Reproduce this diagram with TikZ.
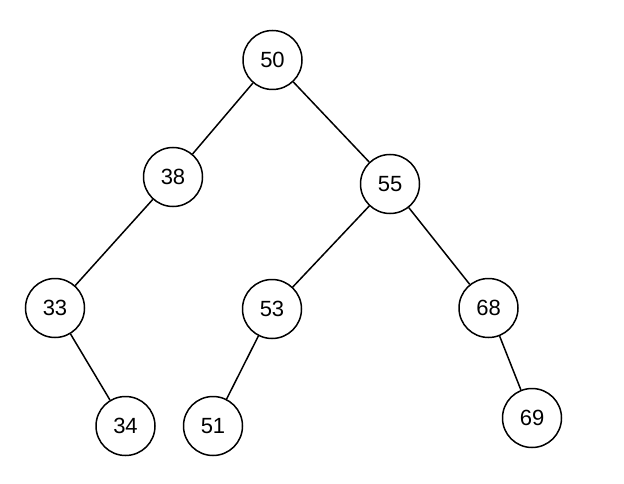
\documentclass[tikz,border=0pt]{standalone}
\usepackage{fontspec}
\setmainfont{Liberation Sans}
\begin{document}
\begin{tikzpicture}[x=1pt,y=-1pt,
  treenode/.style={circle,draw=black,line width=1.5pt,minimum size=59pt,inner sep=0pt,font=\fontsize{22}{26}\selectfont},
  edge/.style={draw=black,line width=1.5pt}]
\useasboundingbox (0,0) rectangle (624,484);
\node[treenode] (n50) at (272.5,60) {50};
\node[treenode] (n38) at (173,177) {38};
\node[treenode] (n55) at (390,184) {55};
\node[treenode] (n33) at (55,308) {33};
\node[treenode] (n53) at (272,309) {53};
\node[treenode] (n68) at (488.5,308) {68};
\node[treenode] (n34) at (125.5,426) {34};
\node[treenode] (n51) at (213,426) {51};
\node[treenode] (n69) at (532,418) {69};
\draw[edge] (n50) -- (n38);
\draw[edge] (n50) -- (n55);
\draw[edge] (n38) -- (n33);
\draw[edge] (n33) -- (n34);
\draw[edge] (n55) -- (n53);
\draw[edge] (n55) -- (n68);
\draw[edge] (n53) -- (n51);
\draw[edge] (n68) -- (n69);
\end{tikzpicture}
\end{document}
